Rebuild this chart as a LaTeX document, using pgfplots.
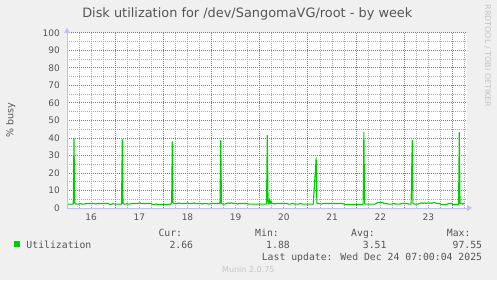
\documentclass[border=0pt]{standalone}
\usepackage{fontspec}
\setmainfont{DejaVu Sans}
\newfontfamily\monofont{DejaVu Sans Mono}
\usepackage{pgfplots}
\pgfplotsset{compat=1.18}
\usetikzlibrary{arrows.meta}
\definecolor{bg}{HTML}{F0F0F0}
\definecolor{axblue}{HTML}{C0C0F8}
\definecolor{txt}{HTML}{555555}
\definecolor{grn}{HTML}{00CC00}
\definecolor{wm}{HTML}{C4C4C4}
\definecolor{mgrid}{HTML}{E85050}
\definecolor{sgrid}{HTML}{A8A8A8}
\pgfplotstableread{
day val
16.000 2.2
16.100 2.2
16.130 2.3
16.145 39.6
16.160 2.9
16.180 2.3
16.220 2.2
16.260 2.3
16.290 2.6
16.320 2.2
16.360 2.2
16.400 2.6
16.480 2.6
16.560 2.6
16.600 2.3
16.630 2.6
16.720 2.6
16.800 2.6
16.860 2.6
16.880 2.1
16.920 2.1
16.950 2.5
16.990 2.2
17.060 2.2
17.132 2.2
17.147 39.0
17.162 2.7
17.185 2.2
17.220 2.2
17.240 2.6
17.270 2.2
17.300 2.2
17.340 2.6
17.420 2.6
17.480 2.6
17.510 2.9
17.540 2.6
17.620 2.6
17.700 2.6
17.750 2.6
17.770 2.1
17.820 2.1
17.850 2.3
17.880 2.1
17.960 2.1
18.050 2.1
18.120 2.1
18.160 2.2
18.172 3.5
18.185 37.9
18.198 2.9
18.220 2.6
18.300 2.6
18.320 2.9
18.345 2.6
18.420 2.6
18.480 2.6
18.500 2.9
18.520 2.6
18.600 2.6
18.640 2.9
18.660 2.6
18.720 2.6
18.780 2.6
18.800 2.2
18.840 2.6
18.880 2.6
18.950 2.2
18.990 2.6
19.060 2.6
19.120 2.6
19.175 2.6
19.190 38.5
19.205 2.8
19.225 2.2
19.280 2.2
19.310 2.6
19.350 2.9
19.380 2.6
19.410 3.0
19.440 2.6
19.500 2.6
19.540 2.3
19.580 2.6
19.650 2.6
19.720 2.6
19.780 2.2
19.900 2.2
20.000 2.2
20.080 2.2
20.140 2.2
20.156 41.5
20.172 2.8
20.190 2.2
20.205 5.2
20.220 2.6
20.235 4.0
20.250 2.6
20.290 2.6
20.310 2.2
20.340 2.6
20.420 2.6
20.500 2.6
20.560 2.6
20.600 2.2
20.640 2.2
20.660 2.6
20.700 2.6
20.720 2.2
20.800 2.2
20.850 2.6
20.880 2.2
21.000 2.2
21.080 2.2
21.110 2.2
21.170 28.6
21.185 2.6
21.220 2.6
21.280 2.3
21.320 2.6
21.400 2.6
21.480 2.6
21.560 2.6
21.640 2.6
21.720 2.6
21.770 2.0
21.900 2.0
22.000 2.0
22.120 2.0
22.145 2.1
22.160 43.2
22.175 2.4
22.200 2.2
22.300 2.2
22.390 2.2
22.430 2.9
22.460 3.2
22.550 3.2
22.580 2.6
22.640 2.6
22.660 2.2
22.740 2.2
22.780 2.6
22.840 2.2
22.900 2.2
22.950 2.6
23.050 2.6
23.100 2.2
23.140 2.2
23.164 38.6
23.178 2.6
23.200 2.2
23.280 2.2
23.310 2.6
23.360 3.0
23.390 2.6
23.420 3.0
23.450 2.6
23.480 3.0
23.510 2.6
23.540 3.0
23.570 2.6
23.600 3.0
23.640 3.0
23.670 2.6
23.740 2.6
23.760 2.1
23.880 2.1
23.920 2.6
23.980 2.6
24.000 2.0
24.110 2.0
24.125 2.1
24.140 43.2
24.155 2.6
24.190 2.6
24.210 2.2
24.230 2.6
24.260 2.66
}\util
\begin{document}
\begin{tikzpicture}[x=1bp,y=1bp]
\fill[bg] (0,0) rectangle (497,280);
\begin{axis}[
  at={(67bp,72bp)}, anchor=south west, scale only axis,
  width=400bp, height=175bp,
  xmin=16, xmax=24.3, ymin=0, ymax=100,
  axis background/.style={fill=white},
  axis lines=left,
  axis line style={draw=axblue, line width=1bp},
  x axis line style={-{Triangle[width=6bp,length=5bp]}, shorten >=-5bp},
  y axis line style={-{Triangle[width=6bp,length=5bp]}, shorten >=-5bp},
  axis on top,
  /pgf/number format/assume math mode=true,
  xtick={16.5,17.5,18.5,19.5,20.5,21.5,22.5,23.5},
  xticklabels={16,17,18,19,20,21,22,23},
  ytick={0,10,...,100},
  major tick length=0pt, minor tick length=0pt,
  yticklabel style={font=\fontsize{9bp}{10bp}\selectfont, text=txt, anchor=east, inner sep=0pt, xshift=-7bp},
  xticklabel style={font=\fontsize{9bp}{10bp}\selectfont, text=txt, anchor=base, inner sep=0pt, yshift=-12.7bp},
]
% minor grid (6 h, 5 %)
\pgfplotsinvokeforeach{16.25,16.5,16.75,17.25,17.5,17.75,18.25,18.5,18.75,19.25,19.5,19.75,20.25,20.5,20.75,21.25,21.5,21.75,22.25,22.5,22.75,23.25,23.5,23.75,24.25}{
  \draw[draw=sgrid, line width=1bp, dash pattern=on 1bp off 1bp] (axis cs:#1,0) -- (axis cs:#1,100);
}
\pgfplotsinvokeforeach{5,15,25,35,45,55,65,75,85,95}{
  \draw[draw=sgrid, line width=1bp, dash pattern=on 1bp off 1bp] (axis cs:16,#1) -- (axis cs:24.3,#1);
}
% major grid (days, 10 %)
\pgfplotsinvokeforeach{17,18,19,20,21,22,23,24}{
  \draw[draw=mgrid, line width=1bp, dash pattern=on 1bp off 1bp] (axis cs:#1,0) -- (axis cs:#1,100);
}
\pgfplotsinvokeforeach{10,20,30,40,50,60,70,80,90,100}{
  \draw[draw=mgrid, line width=1bp, dash pattern=on 1bp off 1bp] (axis cs:16,#1) -- (axis cs:24.3,#1);
}
\addplot[draw=grn, line width=1.1bp, line join=round] table[x=day, y=val] {\util};
\end{axis}
% title and labels
\node[anchor=base, text=txt, font=\fontsize{12.9bp}{14bp}\selectfont, inner sep=0pt] at (247.3,262.3) {Disk utilization for /dev/SangomaVG/root - by week};
\node[rotate=90, text=txt, font=\fontsize{9.5bp}{11bp}\selectfont, inner sep=0pt] at (10.7,160) {\% busy};
\node[rotate=-90, text=wm, font=\fontsize{8bp}{9bp}\selectfont, inner sep=0pt] at (487.7,224) {RRDTOOL / TOBI OETIKER};
% legend
\fill[grn] (14,33) rectangle (20,39);
\begin{scope}[every node/.style={inner sep=0pt, text=txt, font=\monofont\fontsize{9.8bp}{11bp}\selectfont}]
\node[anchor=base west] at (26.3,31.7) {Utilization};
\node[anchor=base west] at (158.3,43.3) {Cur:};
\node[anchor=base west] at (255,43.3) {Min:};
\node[anchor=base west] at (351,43.3) {Avg:};
\node[anchor=base west] at (446.7,43.3) {Max:};
\node[anchor=base east] at (193.3,31.7) {2.66};
\node[anchor=base east] at (290,31.7) {1.88};
\node[anchor=base east] at (386.7,31.7) {3.51};
\node[anchor=base east] at (482.3,31.7) {97.55};
\node[anchor=base east] at (482.3,20) {Last update: Wed Dec 24 07:00:04 2025};
\end{scope}
\node[anchor=base, text=wm, font=\fontsize{8bp}{9bp}\selectfont, inner sep=0pt] at (248.3,7.7) {Munin 2.0.75};
\pgfresetboundingbox
\useasboundingbox (0,0) rectangle (497,280);
\end{tikzpicture}
\end{document}
